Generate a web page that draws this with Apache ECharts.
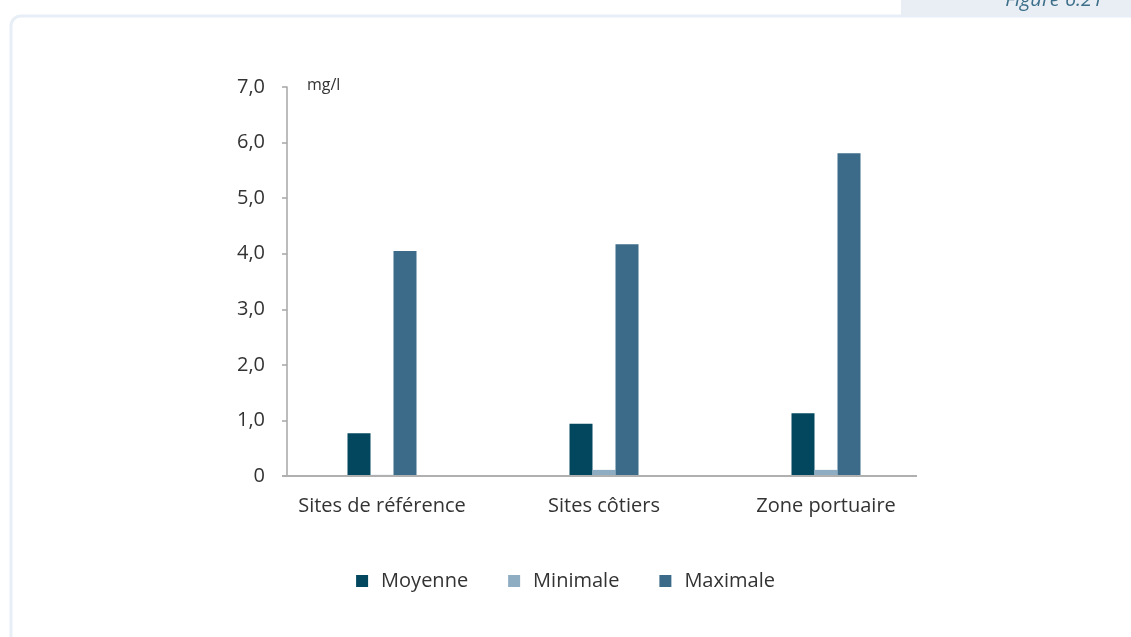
<!DOCTYPE html>
<html>
<head>
<meta charset="utf-8">
<script src="https://cdn.jsdelivr.net/npm/echarts@6/dist/echarts.min.js"></script>
<style>
  html, body { margin: 0; padding: 0; background: #fff; }
  #chart { width: 1131px; height: 637px; }
</style>
</head>
<body>
<div id="chart"></div>
<script>
// Concentrations (mg/l) per site type
const categories = ['Sites de référence', 'Sites côtiers', 'Zone portuaire'];
const moyenne  = [0.77, 0.94, 1.13];
const minimale = [0.02, 0.11, 0.11];
const maximale = [4.05, 4.17, 5.81];
const seriesNames = ['Moyenne', 'Minimale', 'Maximale'];
const unitLabel = 'mg/l';
const figureLabel = 'Figure 6.21';

const colors = ['#03475f', '#8eadc3', '#3b6b88'];
const font = '"Open Sans", "Noto Sans", sans-serif';
const textColor = '#333';

const chart = echarts.init(document.getElementById('chart'));

const gridLeft = 271, gridRight = 194, axisShift = 16;

const option = {
  animation: false,
  textStyle: { fontFamily: font },
  color: colors,
  grid: { left: gridLeft, right: gridRight, top: 87, bottom: 161, containLabel: false },
  legend: {
    top: 566,
    left: 'center',
    icon: 'rect',
    itemWidth: 12,
    itemHeight: 12,
    itemGap: 40,
    textStyle: { fontSize: 20, color: textColor, fontFamily: font, padding: [0, 0, 0, 8] },
    data: seriesNames
  },
  xAxis: {
    type: 'category',
    data: categories,
    axisLine: { show: false },
    axisTick: { show: false },
    axisLabel: { fontSize: 20, color: textColor, margin: 20, fontFamily: font }
  },
  yAxis: {
    type: 'value',
    min: 0,
    max: 7,
    interval: 1,
    offset: -axisShift,
    name: unitLabel,
    nameLocation: 'end',
    nameGap: 2,
    nameTextStyle: { fontSize: 16, color: textColor, align: 'left', verticalAlign: 'middle', padding: [0, 0, 0, 20], fontFamily: font },
    splitLine: { show: false },
    axisLine: { show: true, lineStyle: { color: '#a6a6a6', width: 1.5 } },
    axisTick: { show: true, length: 5, lineStyle: { color: '#a6a6a6', width: 1.5 } },
    axisLabel: {
      fontSize: 20,
      color: textColor,
      margin: 22,
      fontFamily: font,
      formatter: v => v === 0 ? '0' : v.toFixed(1).replace('.', ',')
    }
  },
  series: [
    { name: seriesNames[0], type: 'bar', data: moyenne,  barWidth: 23, barGap: '0%' },
    { name: seriesNames[1], type: 'bar', data: minimale, barWidth: 23, barGap: '0%' },
    { name: seriesNames[2], type: 'bar', data: maximale, barWidth: 23, barGap: '0%' }
  ]
};

chart.setOption(option);

// Baseline drawn from the y axis to the end of the plotting area
const y0 = chart.convertToPixel({ yAxisIndex: 0 }, 0);
const axisX = gridLeft + axisShift;

chart.setOption({
  graphic: [
    {
      type: 'rect',
      silent: true,
      shape: { x: 11, y: 16, width: 1150, height: 700, r: 10 },
      style: { fill: 'none', stroke: '#e8eef5', lineWidth: 3 },
      z: -10
    },
    {
      type: 'rect',
      silent: true,
      shape: { x: 901, y: -5, width: 240, height: 20 },
      style: { fill: '#e9eef4' },
      z: -5
    },
    {
      type: 'text',
      silent: true,
      style: {
        x: 1103, y: 10,
        text: figureLabel,
        align: 'right',
        verticalAlign: 'bottom',
        fontSize: 20,
        fontStyle: 'italic',
        fontFamily: font,
        fill: '#3d6f8a'
      }
    },
    {
      type: 'line',
      silent: true,
      shape: { x1: axisX - 5, y1: y0, x2: 917, y2: y0 },
      style: { stroke: '#b0b0b0', lineWidth: 2 },
      z: 10
    }
  ]
});
</script>
</body>
</html>
